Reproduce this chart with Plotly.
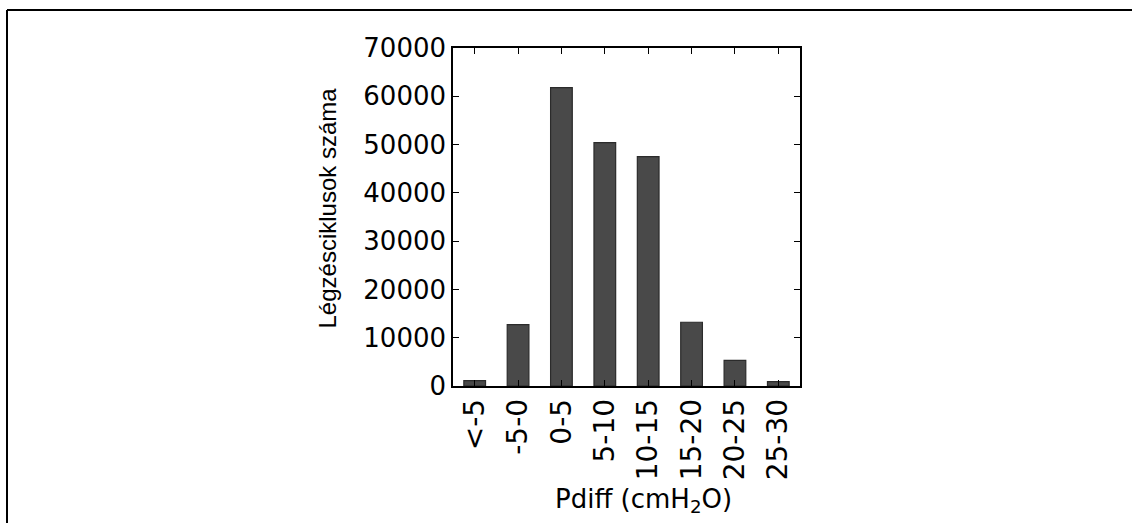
import plotly.graph_objects as go

categories = ["<-5", "-5-0", "0-5", "5-10", "10-15", "15-20", "20-25", "25-30"]
counts = [1100, 12700, 61800, 50400, 47500, 13200, 5300, 900]
y_ticks = [0, 10000, 20000, 30000, 40000, 50000, 60000, 70000]
x_title = "Pdiff (cmH<sub>2</sub>O)"
y_title = "Légzésciklusok száma"

W, H = 1132, 523
L, R, T, B = 453, 800, 48, 386


def px_x(p):
    return (p - L) / (R - L)


def px_y(p):
    return (B - p) / (B - T)


fig = go.Figure()
fig.add_trace(go.Bar(
    x=categories, y=counts, width=0.5,
    marker=dict(color="#494949", line=dict(color="#2b2b2b", width=1.2)),
))

font_family = "DejaVu Sans"
fig.update_layout(
    width=W, height=H,
    margin=dict(l=L, r=W - R, t=T, b=H - B, pad=0),
    paper_bgcolor="white", plot_bgcolor="white",
    showlegend=False,
    font=dict(family=font_family, color="black"),
    bargap=0.5,
)
fig.update_xaxes(
    type="category", range=[-0.5, 7.5],
    tickangle=-90, tickfont=dict(size=28, family=font_family),
    ticks="inside", ticklen=6, tickwidth=1, tickcolor="black",
    showline=True, linecolor="black", linewidth=1.5, mirror="ticks",
    showgrid=False, zeroline=False,
)
fig.update_yaxes(
    range=[0, 70000], tickvals=y_ticks, ticktext=[str(v) for v in y_ticks],
    tickfont=dict(size=26, family=font_family),
    ticks="inside", ticklen=6, tickwidth=1, tickcolor="black",
    showline=True, linecolor="black", linewidth=1.5, mirror="ticks",
    showgrid=False, zeroline=False,
)

fig.add_annotation(text=x_title, xref="paper", yref="paper",
                   x=px_x(643), y=px_y(500), xanchor="center", yanchor="middle",
                   showarrow=False, font=dict(size=26, family=font_family, color="black"))
fig.add_annotation(text=y_title, xref="paper", yref="paper", textangle=-90,
                   x=px_x(327), y=px_y(208.5), xanchor="center", yanchor="middle",
                   showarrow=False, font=dict(size=24, family="Liberation Sans", color="black"))

# outer frame (top and left edges of the figure border)
fig.add_shape(type="line", xref="paper", yref="paper",
              x0=px_x(7), x1=px_x(W + 5), y0=px_y(10), y1=px_y(10),
              line=dict(color="black", width=2))
fig.add_shape(type="line", xref="paper", yref="paper",
              x0=px_x(7), x1=px_x(7), y0=px_y(10), y1=px_y(H + 5),
              line=dict(color="black", width=2))

fig.write_html("out.html")
